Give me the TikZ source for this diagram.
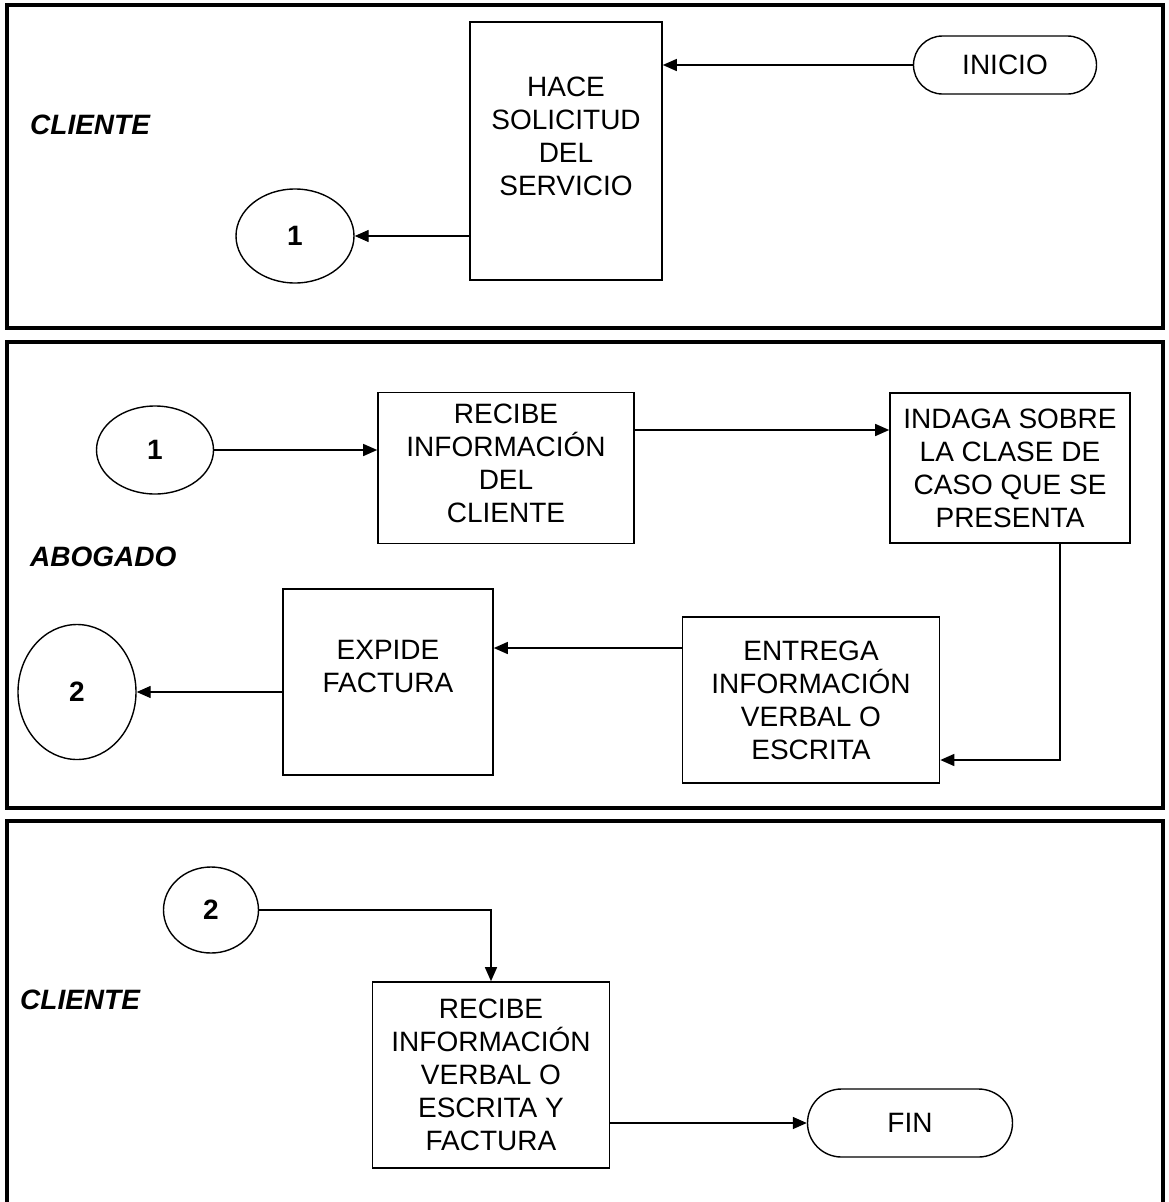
\documentclass[tikz,border=0pt]{standalone}
\usepackage{fontspec}
\setmainfont{Liberation Sans}
\usetikzlibrary{arrows.meta,shapes.geometric,calc}
\tikzset{
  lane/.style={line width=4pt},
  body/.style={font=\fontsize{28}{33}\selectfont, align=center},
  lanelabel/.style={font=\fontsize{28}{33}\selectfont\bfseries\itshape, anchor=west, inner sep=0pt},
  procbox/.style={draw, line width=1.6pt, inner sep=0pt},
  conn/.style={draw, ellipse, line width=1.4pt, inner sep=0pt, font=\fontsize{28}{33}\selectfont\bfseries},
  term/.style={draw, line width=1.4pt, rounded corners=29pt, inner sep=0pt, font=\fontsize{28}{33}\selectfont},
  arr/.style={line width=1.4pt, -{Triangle[length=14pt,width=12pt]}},
  plain/.style={line width=1.4pt}
}
\begin{document}
\begin{tikzpicture}[x=1pt,y=-1pt]
\useasboundingbox (0,0) rectangle (1169,1202);
% lanes
\draw[lane] (7,5) rectangle (1163,328);
\draw[lane] (7,342) rectangle (1163,808);
\draw[lane] (7,1204) -- (7,821) -- (1163,821) -- (1163,1204);
% lane labels
\node[lanelabel] (l1) at (30,125) {CLIENTE};
\node[lanelabel] (l2) at (30,557) {ABOGADO};
\node[lanelabel] (l3) at (20,1000) {CLIENTE};
% lane 1
\node[procbox, minimum width=192pt, minimum height=258pt] (hace) at (566,151) {};
\node[body] (hacet) at (566,136) {HACE\\SOLICITUD\\DEL\\SERVICIO};
\node[term, minimum width=183pt, minimum height=58pt] (inicio) at (1005,65) {INICIO};
\node[conn, minimum width=118pt, minimum height=94pt] (c1a) at (295,236) {1};
\draw[arr] (inicio.west) -- (inicio.west -| hace.east);
\draw[arr] (hace.west |- c1a.east) -- (c1a.east);
% lane 2
\node[conn, minimum width=117pt, minimum height=88pt] (c1b) at (155,450) {1};
\node[procbox, minimum width=256pt, minimum height=151pt] (recibe) at (506,468) {};
\node[body] (recibet) at (506,463) {RECIBE\\INFORMACIÓN\\DEL\\CLIENTE};
\node[procbox, body, minimum width=240pt, minimum height=150pt] (indaga) at (1010,468) {INDAGA SOBRE\\LA CLASE DE\\CASO QUE SE\\PRESENTA};
\node[procbox, body, minimum width=257pt, minimum height=166pt] (entrega) at (811,700) {ENTREGA\\INFORMACIÓN\\VERBAL O\\ESCRITA};
\node[procbox, minimum width=210pt, minimum height=186pt] (expide) at (388,682) {};
\node[body] (expidet) at (388,666) {EXPIDE\\FACTURA};
\node[conn, minimum width=118pt, minimum height=135pt] (c2a) at (77,692) {2};
\draw[arr] (c1b.east) -- (c1b.east -| recibe.west);
\draw[arr] ([yshift=38pt]recibe.east) -- ([yshift=38pt]recibe.east -| indaga.west);
\draw[arr] ([xshift=50pt]indaga.south) |- ([yshift=-60pt]entrega.east);
\draw[arr] ([yshift=52pt]entrega.west) -- ([yshift=52pt]entrega.west -| expide.east);
\draw[arr] (expide.west |- c2a.east) -- (c2a.east);
% lane 3
\node[conn, minimum width=95pt, minimum height=86pt] (c2b) at (211,910) {2};
\node[procbox, body, minimum width=237pt, minimum height=186pt] (recibe2) at (491,1075) {RECIBE\\INFORMACIÓN\\VERBAL O\\ESCRITA Y\\FACTURA};
\node[term, minimum width=205pt, minimum height=68pt, rounded corners=34pt] (fin) at (910,1123) {FIN};
\draw[arr] (c2b.east) -| (recibe2.north);
\draw[arr] (recibe2.east |- fin.west) -- (fin.west);
\end{tikzpicture}
\end{document}
